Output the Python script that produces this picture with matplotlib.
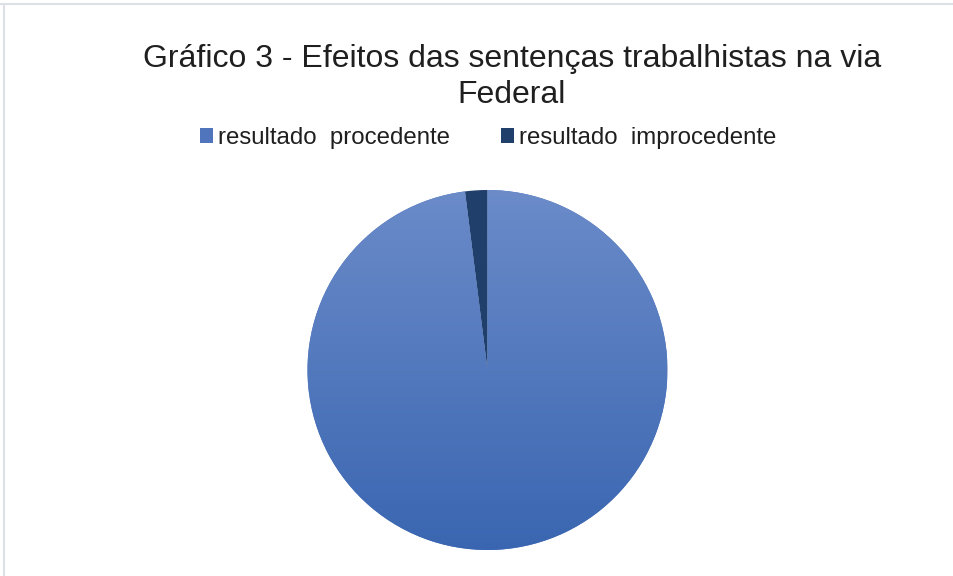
import numpy as np
import matplotlib.pyplot as plt
from matplotlib.colors import LinearSegmentedColormap
from matplotlib.patches import Patch
from matplotlib.lines import Line2D

plt.rcParams['font.family'] = ['Liberation Sans', 'DejaVu Sans']

# data
labels = ['resultado  procedente', 'resultado  improcedente']
values = [98, 2]
colors = ['#5075bd', '#213f6b']
title = 'Gráfico 3 - Efeitos das sentenças trabalhistas na via\nFederal'

fig = plt.figure(figsize=(9.54, 5.76), dpi=100)

# pie centred at about (487, 370) px with radius ~180 px
cx, cy, r = 487.5, 370, 180
W, H = 954, 576
ax = fig.add_axes([(cx - r) / W, (H - cy - r) / H, 2 * r / W, 2 * r / H])
wedges, _ = ax.pie(values, colors=colors, startangle=90, counterclock=False,
                   radius=1, wedgeprops=dict(linewidth=0))
ax.set_xlim(-1, 1)
ax.set_ylim(-1, 1)
ax.set_aspect('equal')
ax.axis('off')

# vertical gradient on the big slice, like the office-style shading
cmap = LinearSegmentedColormap.from_list('blue_grad', ['#3a66b1', '#6b8bc9'])
grad = np.linspace(0, 1, 256).reshape(-1, 1)
img = ax.imshow(grad, cmap=cmap, extent=(-1, 1, -1, 1), origin='lower',
                aspect='auto', zorder=wedges[0].get_zorder() + 0.1)
img.set_clip_path(wedges[0])

fig.text(512 / W, 1 - 77 / H, title, ha='center', va='center',
         fontsize=23, color='#1f1f1f', linespacing=1.29)

handles = [Patch(facecolor=c, edgecolor='none') for c in colors]
fig.legend(handles, labels, loc='center', bbox_to_anchor=(488 / W, 1 - 138 / H),
           ncol=2, frameon=False, fontsize=17.3, handlelength=0.55,
           handleheight=0.55, handletextpad=0.2, columnspacing=2.1,
           borderpad=0, labelcolor='#1f1f1f')

# faint frame lines at top and left edge
fig.add_artist(Line2D([0, 1], [1 - 3.5 / H, 1 - 3.5 / H], color='#dde1e6', lw=1.5))
fig.add_artist(Line2D([4 / W, 4 / W], [0, 1 - 3.5 / H], color='#dde1e6', lw=1.5))

fig.savefig('out.png', dpi=100)
